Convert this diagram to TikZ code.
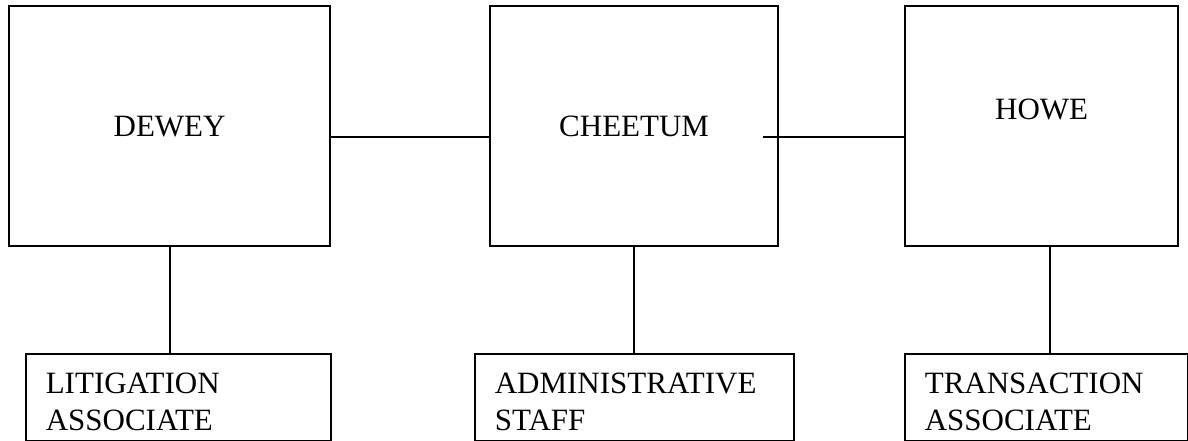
\documentclass[tikz,border=0pt]{standalone}
\usepackage{fontspec}
\setmainfont{Liberation Serif}
\usepackage{tikz}

\begin{document}
\begin{tikzpicture}[x=1pt,y=-1pt]
        \tikzset{every node/.style={font=\fontsize{31pt}{37pt}\selectfont},
                 partner/.style={draw,line width=2.2pt,shape=rectangle,minimum height=240pt,inner sep=0pt,anchor=north west},
                 staff/.style={draw,line width=1.6pt,shape=rectangle,anchor=north west,align=left,inner xsep=20pt,inner ysep=0pt,text height=40pt,text depth=47pt},
                 link/.style={line width=1.8pt}}
            \useasboundingbox (0,0) rectangle (1188,440);

            \node[partner,minimum width=321pt] (dewey) at (8,5) {DEWEY};
            \node[partner,minimum width=288pt] (cheetum) at (489,5) {CHEETUM};
            \node[partner,minimum width=273pt,text height=20pt,text depth=34pt] (howe) at (904,5) {HOWE};

            \node[staff,text width=265pt] (litigation) at (25,353) {LITIGATION\\ASSOCIATE};
            \node[staff,text width=279pt] (admin) at (474,353) {ADMINISTRATIVE\\STAFF};
            \node[staff,text width=243pt] (transaction) at (904,353) {TRANSACTION\\ASSOCIATE};

            \coordinate (left) at ([yshift=-11pt]dewey.east);
            \coordinate (right) at ([xshift=-16pt,yshift=-11pt]cheetum.east);

            \draw[link] (left) -- (left -| cheetum.west)
            (right) -- (right -| howe.west)
            (dewey.south) -- (dewey.south |- litigation.north)
            (cheetum.south) -- (cheetum.south |- admin.north)
            ([xshift=8.5pt]howe.south) -- ([xshift=8.5pt]howe.south |- transaction.north);
        \end{tikzpicture}
\end{document}
